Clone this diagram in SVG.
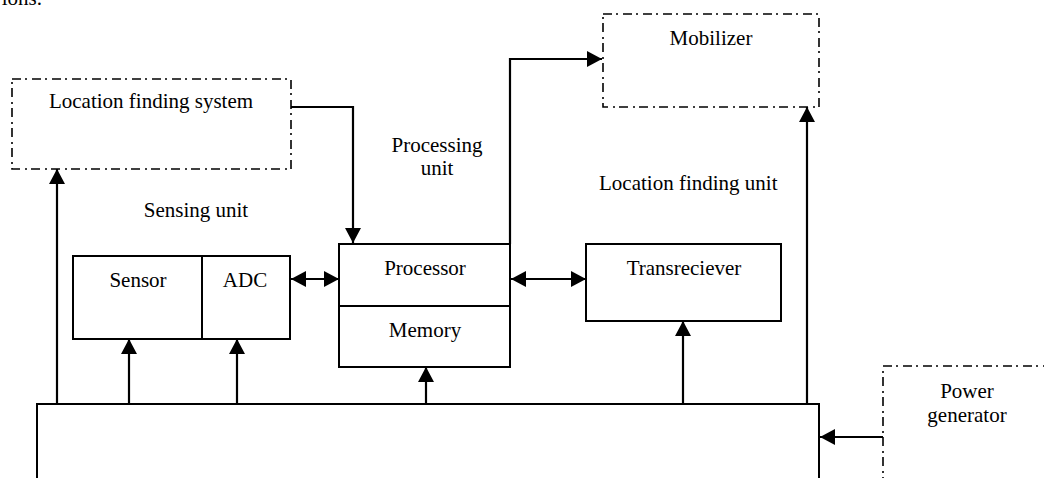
<svg xmlns="http://www.w3.org/2000/svg" width="1044" height="478" viewBox="0 0 1044 478">
<style>
text{font-family:"Liberation Serif","Times New Roman",serif;font-size:21px;fill:#000}
.c{text-anchor:middle}
.box{fill:none;stroke:#000;stroke-width:2}
.dd{fill:none;stroke:#000;stroke-width:1.6;stroke-dasharray:9 4 2 5}
.ln{fill:none;stroke:#000;stroke-width:2.2}
</style>
<defs>
<marker id="ah" viewBox="0 0 15 16" refX="15" refY="8" markerWidth="15" markerHeight="16" markerUnits="userSpaceOnUse" orient="auto-start-reverse">
<path d="M0,0 L15,8 L0,16 z" fill="#000"/>
</marker>
</defs>
<rect width="1044" height="478" fill="#fff"/>
<text x="42" y="5" text-anchor="end">ions.</text>

<g id="location-finding-system">
<rect class="dd" x="12" y="79" width="279" height="90"/>
<text class="c" x="151" y="108">Location finding system</text>
</g>
<g id="mobilizer">
<rect class="dd" x="603" y="14" width="216" height="93"/>
<text class="c" x="711" y="45">Mobilizer</text>
</g>
<g id="power-generator">
<rect class="dd" x="883" y="366" width="200" height="140"/>
<text class="c" x="967" y="398">Power</text>
<text class="c" x="967" y="422">generator</text>
</g>
<g id="sensing-unit">
<text class="c" x="196" y="217">Sensing unit</text>
<rect class="box" x="73" y="256" width="217" height="83"/>
<line class="box" x1="202" y1="256" x2="202" y2="339"/>
<text class="c" x="138" y="287">Sensor</text>
<text class="c" x="245" y="287">ADC</text>
</g>
<g id="processing-unit">
<text class="c" x="437" y="152">Processing</text>
<text class="c" x="437" y="175">unit</text>
<rect class="box" x="339" y="244" width="171" height="123"/>
<line class="box" x1="339" y1="306" x2="510" y2="306"/>
<text class="c" x="425" y="275">Processor</text>
<text class="c" x="425" y="337">Memory</text>
</g>
<g id="location-finding-unit">
<text x="599" y="190">Location finding unit</text>
<rect class="box" x="586" y="244" width="195" height="77"/>
<text class="c" x="684" y="275">Transreciever</text>
</g>
<g id="power-unit">
<rect class="box" x="37" y="404" width="782" height="110"/>
</g>

<g id="connectors">
<polyline class="ln" points="291,107 353,107 353,243" marker-end="url(#ah)"/>
<polyline class="ln" points="510,244 510,59 602,59" marker-end="url(#ah)"/>
<line class="ln" x1="57" y1="404" x2="57" y2="169" marker-end="url(#ah)"/>
<line class="ln" x1="129" y1="404" x2="129" y2="339" marker-end="url(#ah)"/>
<line class="ln" x1="237" y1="404" x2="237" y2="339" marker-end="url(#ah)"/>
<line class="ln" x1="426" y1="404" x2="426" y2="367" marker-end="url(#ah)"/>
<line class="ln" x1="683" y1="404" x2="683" y2="321" marker-end="url(#ah)"/>
<line class="ln" x1="807" y1="404" x2="807" y2="107" marker-end="url(#ah)"/>
<line class="ln" x1="291" y1="279" x2="339" y2="279" marker-start="url(#ah)" marker-end="url(#ah)"/>
<line class="ln" x1="511" y1="279" x2="586" y2="279" marker-start="url(#ah)" marker-end="url(#ah)"/>
<line class="ln" x1="883" y1="437" x2="820" y2="437" marker-end="url(#ah)"/>
</g>
</svg>
